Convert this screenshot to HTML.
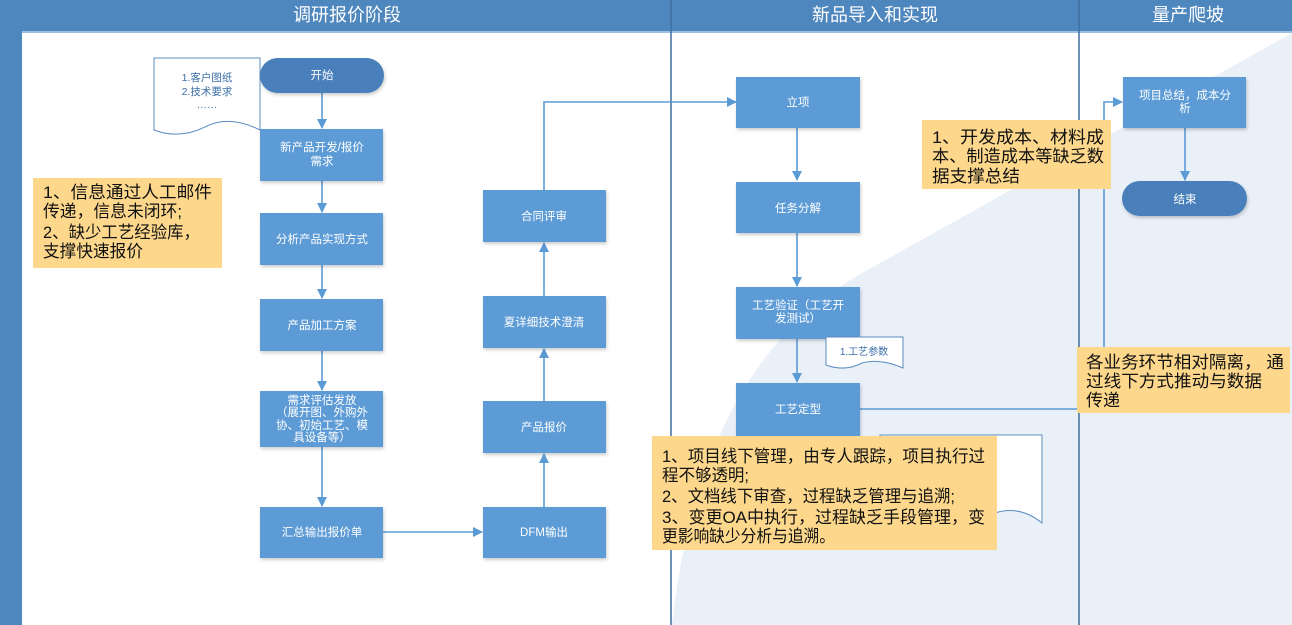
<!DOCTYPE html>
<html><head><meta charset="utf-8"><style>
html,body{margin:0;padding:0;background:#fff;}
svg{display:block;font-family:"Liberation Sans","Noto Sans CJK SC",sans-serif;}
.bx{fill:#5b9bd5;}
.t{fill:#fff;font-size:11.5px;text-anchor:middle;}
.n{fill:#111;font-size:17px;}
.ln{stroke:#5b9bd5;stroke-width:1.6;fill:none;}
</style></head><body>
<svg width="1292" height="625" viewBox="0 0 1292 625" xmlns="http://www.w3.org/2000/svg">
<defs>
<marker id="a" markerWidth="10" markerHeight="10" refX="9" refY="5" orient="auto" markerUnits="userSpaceOnUse">
<path d="M0,0 L10,5 L0,10 Z" fill="#5b9bd5"/></marker>
<filter id="sh" x="-10%" y="-10%" width="130%" height="130%"><feDropShadow dx="1" dy="2" stdDeviation="1.5" flood-color="#000" flood-opacity="0.2"/></filter>
</defs>
<path d="M1292,33 L855,277 Q700,370 672,625 L1292,625 Z" fill="#e9f0f8"/>
<rect x="0" y="0" width="22" height="625" fill="#4e86be"/>
<rect x="0" y="0" width="1292" height="32" fill="#4e86be"/>
<line x1="22" y1="32" x2="1292" y2="32" stroke="#9cbfe0" stroke-width="2"/>
<line x1="671" y1="0" x2="671" y2="625" stroke="#3f6f9e" stroke-width="1.5"/>
<line x1="1079" y1="0" x2="1079" y2="625" stroke="#3f6f9e" stroke-width="1.5"/>
<text x="347" y="21" fill="#fff" font-size="18" text-anchor="middle">调研报价阶段</text>
<text x="875" y="21" fill="#fff" font-size="18" text-anchor="middle">新品导入和实现</text>
<text x="1188" y="21" fill="#fff" font-size="18" text-anchor="middle">量产爬坡</text>

<path d="M154,58 L260,58 L260,130 Q230,115 207,126 Q180,140 154,130 Z" fill="#fff" stroke="#5b8cc0" stroke-width="1"/>
<text x="207" y="81" font-size="10.5" fill="#3a6fa8" text-anchor="middle">1.客户图纸</text>
<text x="207" y="95" font-size="10.5" fill="#3a6fa8" text-anchor="middle">2.技术要求</text>
<text x="207" y="108" font-size="10.5" fill="#3a6fa8" text-anchor="middle">……</text>

<line class="ln" x1="322" y1="92" x2="322" y2="128" marker-end="url(#a)"/>
<line class="ln" x1="322" y1="181" x2="322" y2="212" marker-end="url(#a)"/>
<line class="ln" x1="322" y1="265" x2="322" y2="298" marker-end="url(#a)"/>
<line class="ln" x1="322" y1="351" x2="322" y2="390" marker-end="url(#a)"/>
<line class="ln" x1="322" y1="447" x2="322" y2="506" marker-end="url(#a)"/>
<line class="ln" x1="383" y1="532" x2="482" y2="532" marker-end="url(#a)"/>
<line class="ln" x1="544" y1="507" x2="544" y2="454" marker-end="url(#a)"/>
<line class="ln" x1="544" y1="401" x2="544" y2="349" marker-end="url(#a)"/>
<line class="ln" x1="544" y1="296" x2="544" y2="243" marker-end="url(#a)"/>
<polyline class="ln" points="544,190 544,102 736,102" marker-end="url(#a)"/>
<line class="ln" x1="797" y1="128" x2="797" y2="180" marker-end="url(#a)"/>
<line class="ln" x1="797" y1="233" x2="797" y2="286" marker-end="url(#a)"/>
<line class="ln" x1="797" y1="339" x2="797" y2="382" marker-end="url(#a)"/>
<polyline class="ln" points="859,409 1104,409 1104,102 1122,102" marker-end="url(#a)"/>
<line class="ln" x1="1185" y1="128" x2="1185" y2="180" marker-end="url(#a)"/>

<g filter="url(#sh)">
<rect x="260" y="58" width="124" height="35" rx="17.5" fill="#4a80bb"/>
<rect class="bx" x="260" y="129" width="123" height="52"/>
<rect class="bx" x="260" y="213" width="123" height="52"/>
<rect class="bx" x="260" y="299" width="123" height="52"/>
<rect class="bx" x="260" y="391" width="123" height="56"/>
<rect class="bx" x="260" y="507" width="123" height="51"/>
<rect class="bx" x="483" y="190" width="123" height="52"/>
<rect class="bx" x="483" y="296" width="123" height="52"/>
<rect class="bx" x="483" y="401" width="123" height="52"/>
<rect class="bx" x="483" y="507" width="123" height="51"/>
<rect class="bx" x="736" y="77" width="124" height="51"/>
<rect class="bx" x="736" y="182" width="124" height="51"/>
<rect class="bx" x="736" y="287" width="124" height="52"/>
<rect class="bx" x="736" y="383" width="124" height="54"/>
<rect class="bx" x="1123" y="77" width="123" height="51"/>
<rect x="1122" y="181" width="125" height="35" rx="17.5" fill="#4a80bb"/>
</g>
<text class="t" x="322" y="79">开始</text>
<text class="t" x="322" y="151">新产品开发/报价</text>
<text class="t" x="322" y="165">需求</text>
<text class="t" x="322" y="243">分析产品实现方式</text>
<text class="t" x="322" y="329">产品加工方案</text>
<text class="t" x="322" y="404">需求评估发放</text>
<text class="t" x="322" y="416">（展开图、外购外</text>
<text class="t" x="322" y="429">协、初始工艺、模</text>
<text class="t" x="322" y="441">具设备等）</text>
<text class="t" x="322" y="536">汇总输出报价单</text>
<text class="t" x="544" y="220">合同评审</text>
<text class="t" x="544" y="326">夏详细技术澄清</text>
<text class="t" x="544" y="431">产品报价</text>
<text class="t" x="544" y="536">DFM输出</text>
<text class="t" x="798" y="106">立项</text>
<text class="t" x="798" y="212">任务分解</text>
<text class="t" x="798" y="309">工艺验证（工艺开</text>
<text class="t" x="798" y="322">发测试）</text>
<text class="t" x="798" y="413">工艺定型</text>
<text class="t" x="1185" y="99">项目总结，成本分</text>
<text class="t" x="1185" y="112">析</text>
<text class="t" x="1185" y="203">结束</text>

<path d="M826,337 L903,337 L903,368 Q880,358 862,363 Q845,372 826,365 Z" fill="#fff" stroke="#5b8cc0" stroke-width="1"/>
<text x="864" y="355" font-size="10" fill="#3a6fa8" text-anchor="middle">1.工艺参数</text>
<path d="M880,435 L1042,435 L1042,523 Q1020,505 995,513 L880,513 Z" fill="#fff" stroke="#5b8cc0" stroke-width="1"/>

<rect x="33" y="178" width="189" height="90" fill="#fdd88c"/>
<text class="n" x="43" y="198" textLength="169" lengthAdjust="spacingAndGlyphs">1、信息通过人工邮件</text>
<text class="n" x="43" y="217" textLength="139" lengthAdjust="spacingAndGlyphs">传递，信息未闭环;</text>
<text class="n" x="43" y="238" textLength="157" lengthAdjust="spacingAndGlyphs">2、缺少工艺经验库，</text>
<text class="n" x="43" y="257" textLength="100" lengthAdjust="spacingAndGlyphs">支撑快速报价</text>

<rect x="922" y="120" width="189" height="69" fill="#fdd88c"/>
<text class="n" x="932" y="143" textLength="172" lengthAdjust="spacingAndGlyphs">1、开发成本、材料成</text>
<text class="n" x="932" y="162" textLength="172" lengthAdjust="spacingAndGlyphs">本、制造成本等缺乏数</text>
<text class="n" x="932" y="182" textLength="88" lengthAdjust="spacingAndGlyphs">据支撑总结</text>

<rect x="1077" y="347" width="213" height="66" fill="#fdd88c"/>
<text class="n" x="1086" y="368" textLength="198" lengthAdjust="spacingAndGlyphs">各业务环节相对隔离，  通</text>
<text class="n" x="1086" y="387" textLength="176" lengthAdjust="spacingAndGlyphs">过线下方式推动与数据</text>
<text class="n" x="1086" y="406" textLength="34" lengthAdjust="spacingAndGlyphs">传递</text>

<rect x="652" y="436" width="345" height="114" fill="#fdd88c"/>
<text class="n" x="662" y="462" textLength="323" lengthAdjust="spacingAndGlyphs">1、项目线下管理，由专人跟踪，项目执行过</text>
<text class="n" x="662" y="481" textLength="87" lengthAdjust="spacingAndGlyphs">程不够透明;</text>
<text class="n" x="662" y="502" textLength="293" lengthAdjust="spacingAndGlyphs">2、文档线下审查，过程缺乏管理与追溯;</text>
<text class="n" x="662" y="523" textLength="323" lengthAdjust="spacingAndGlyphs">3、变更OA中执行，过程缺乏手段管理，变</text>
<text class="n" x="662" y="542" textLength="173" lengthAdjust="spacingAndGlyphs">更影响缺少分析与追溯。</text>
</svg>
</body></html>
